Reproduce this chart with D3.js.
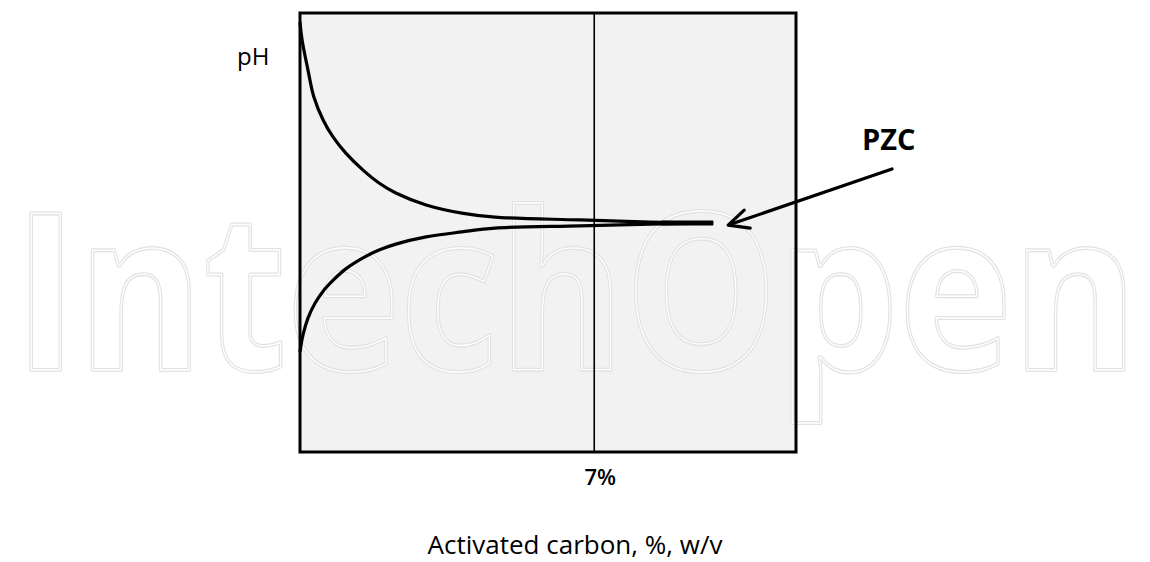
<!DOCTYPE html>
<html>
<head>
<meta charset="utf-8">
<script src="https://cdn.jsdelivr.net/npm/d3@7"></script>
<style>
  body { margin: 0; background: #fff; }
  svg { display: block; }
</style>
</head>
<body>
<div id="chart"></div>
<script>
"use strict";

// activated carbon dose (% w/v) vs pH, two suspensions converging at the PZC
var upperDose = [0, 0.05, 0.19, 0.33, 0.55, 0.79, 1.09, 1.50, 1.88, 2.28, 3.00, 3.85, 4.64, 6.66, 8.33, 9.83];
var upperPH   = [13.71, 13.14, 12.18, 11.32, 10.59, 10.04, 9.53, 8.99, 8.58, 8.26, 7.88, 7.62, 7.49, 7.40, 7.33, 7.30];
var lowerDose = [0, 0.07, 0.19, 0.36, 0.55, 0.79, 1.09, 1.50, 1.88, 2.28, 3.00, 3.85, 4.64, 6.66, 8.33, 9.83];
var lowerPH   = [3.19, 3.73, 4.27, 4.75, 5.13, 5.48, 5.84, 6.19, 6.44, 6.63, 6.86, 7.02, 7.14, 7.21, 7.27, 7.30];
var xTicks = [7];
var xTickLabels = ["7%"];
var pzcDose = 9.83, pzcPH = 7.30;

const W = 1150, H = 562;
var margin = {top: 13, right: 354, bottom: 110, left: 300},
    width = W - margin.left - margin.right,
    height = H - margin.top - margin.bottom;

var x = d3.scaleLinear().domain([0, 11.8]).range([0, width]);
var y = d3.scaleLinear().domain([0, 14]).range([height, 0]);

var svg = d3.select("#chart").append("svg")
    .attr("width", W)
    .attr("height", H);

var g = svg.append("g")
    .attr("transform", "translate(" + margin.left + "," + margin.top + ")");

// plot area background
g.append("rect")
    .attr("width", width)
    .attr("height", height)
    .attr("fill", "#f2f2f2");

// watermark (outlined text)
var wm = svg.append("g").attr("pointer-events", "none");
[{s: "#e2e2e2", w: 4}, {s: "#ffffff", w: 1.4}].forEach(function(st) {
  wm.append("text")
      .attr("x", 14)
      .attr("y", 370)
      .attr("textLength", 1124)
      .attr("lengthAdjust", "spacingAndGlyphs")
      .style("font-family", "'Open Sans', sans-serif")
      .style("font-size", "220px")
      .style("font-weight", 700)
      .attr("fill", "none")
      .attr("stroke", st.s)
      .attr("stroke-width", st.w)
      .attr("stroke-linejoin", "round")
      .text("IntechOpen");
});

var plot = svg.append("g")
    .attr("transform", "translate(" + margin.left + "," + margin.top + ")");

// vertical reference line at 7%
plot.selectAll(".vline")
    .data(xTicks)
  .enter().append("line")
    .attr("class", "vline")
    .attr("x1", function(d) { return x(d); })
    .attr("x2", function(d) { return x(d); })
    .attr("y1", 0)
    .attr("y2", height)
    .attr("stroke", "#000")
    .attr("stroke-width", 1.6);

var line = d3.line()
    .x(function(d) { return x(d[0]); })
    .y(function(d) { return y(d[1]); })
    .curve(d3.curveCatmullRom.alpha(0.5));

var upper = d3.zip(upperDose, upperPH);
var lower = d3.zip(lowerDose, lowerPH);

[upper, lower].forEach(function(series) {
  plot.append("path")
      .datum(series)
      .attr("d", line)
      .attr("fill", "none")
      .attr("stroke", "#000")
      .attr("stroke-width", 3.2);
});

// thickened tip where the curves meet
plot.append("line")
    .attr("x1", x(8.6)).attr("y1", y(pzcPH))
    .attr("x2", x(pzcDose)).attr("y2", y(pzcPH))
    .attr("stroke", "#000")
    .attr("stroke-width", 5);

// frame
plot.append("rect")
    .attr("width", width)
    .attr("height", height)
    .attr("fill", "none")
    .attr("stroke", "#000")
    .attr("stroke-width", 3);

// x tick label
plot.selectAll(".xlab")
    .data(xTicks)
  .enter().append("text")
    .attr("class", "xlab")
    .attr("x", function(d) { return x(d) + 6; })
    .attr("y", height + 33)
    .attr("text-anchor", "middle")
    .style("font-family", "'Open Sans', sans-serif")
    .style("font-size", "22px")
    .style("font-weight", 600)
    .text(function(d, i) { return xTickLabels[i]; });

// y label
svg.append("text")
    .attr("x", 237)
    .attr("y", 65)
    .style("font-family", "'Open Sans', sans-serif")
    .style("font-size", "24px")
    .text("pH");

// x axis title
svg.append("text")
    .attr("x", 575)
    .attr("y", 554)
    .attr("text-anchor", "middle")
    .style("font-family", "'Open Sans', sans-serif")
    .style("font-size", "26px")
    .style("font-weight", 500)
    .text("Activated carbon, %, w/v");

// PZC arrow
var tipX = margin.left + x(pzcDose) + 15, tipY = margin.top + y(pzcPH) + 2;
svg.append("line")
    .attr("x1", 892).attr("y1", 169)
    .attr("x2", tipX + 3).attr("y2", tipY - 1)
    .attr("stroke", "#000")
    .attr("stroke-width", 3.2)
    .attr("stroke-linecap", "round");
svg.append("path")
    .attr("d", "M" + (tipX + 16) + "," + (tipY - 15) + "L" + tipX + "," + tipY + "L" + (tipX + 22) + "," + (tipY + 3))
    .attr("fill", "none")
    .attr("stroke", "#000")
    .attr("stroke-width", 3.2)
    .attr("stroke-linecap", "round")
    .attr("stroke-linejoin", "round");

svg.append("text")
    .attr("x", 862)
    .attr("y", 150)
    .style("font-family", "'Open Sans', sans-serif")
    .style("font-size", "29px")
    .style("font-weight", 700)
    .text("PZC");
</script>
</body>
</html>
